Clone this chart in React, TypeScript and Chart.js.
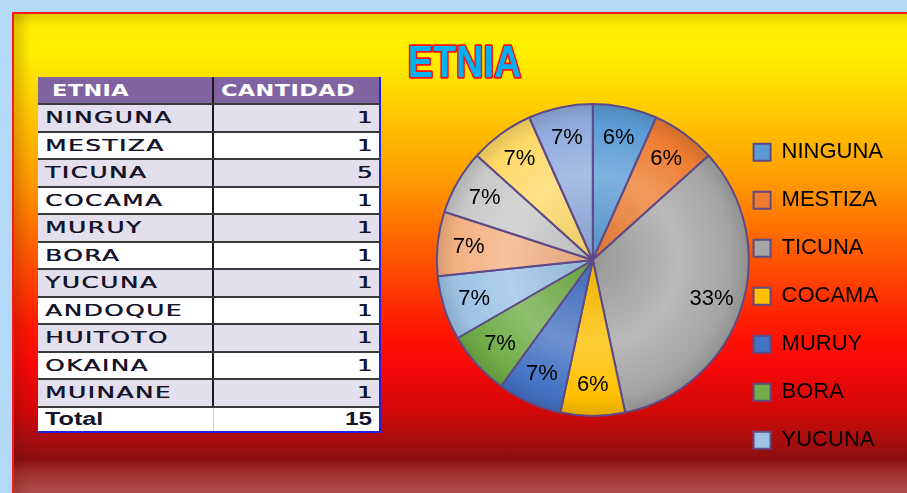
import React, { useEffect, useRef } from "react";
import { Chart, registerables } from "chart.js";

Chart.register(...registerables);

const chartTitle = "ETNIA";
const tableHeaders = ["ETNIA", "CANTIDAD"];
const categories = ["NINGUNA", "MESTIZA", "TICUNA", "COCAMA", "MURUY", "BORA", "YUCUNA", "ANDOQUE", "HUITOTO", "OKAINA", "MUINANE"];
const counts = [1, 1, 5, 1, 1, 1, 1, 1, 1, 1, 1];
const percentLabels = ["6%", "6%", "33%", "6%", "7%", "7%", "7%", "7%", "7%", "7%", "7%"];
const sliceColors = ["#5B9BD5", "#ED7D31", "#A5A5A5", "#FFC000", "#4472C4", "#70AD47", "#9DC3E6", "#F4B183", "#C9C9C9", "#FFD966", "#8FAADC"];
const legendShown = 7;
const totalLabel = "Total";

function mix(hex: string, target: number, amt: number) {
  const n = parseInt(hex.slice(1), 16);
  const r = (n >> 16) & 255, g = (n >> 8) & 255, b = n & 255;
  const f = (c: number) => Math.round(c + (target - c) * amt);
  return `rgb(${f(r)},${f(g)},${f(b)})`;
}

const titlePlugin = {
  id: "etniaTitle",
  afterDraw(chart: any) {
    const ctx = chart.ctx;
    ctx.save();
    ctx.translate(464.5, 77);
    ctx.scale(0.84, 1);
    ctx.font = 'bold 45px "Liberation Sans"';
    ctx.textAlign = "center";
    ctx.textBaseline = "alphabetic";
    ctx.lineJoin = "round";
    ctx.lineWidth = 3.5;
    ctx.strokeStyle = "#ff1010";
    ctx.strokeText(chartTitle, 0, 0);
    ctx.fillStyle = "#00b0f0";
    ctx.fillText(chartTitle, 0, 0);
    ctx.restore();
  },
};

const pctPlugin = {
  id: "pctLabels",
  afterDatasetsDraw(chart: any) {
    const ctx = chart.ctx;
    const meta = chart.getDatasetMeta(0);
    ctx.save();
    ctx.font = '22px "Liberation Sans"';
    ctx.fillStyle = "#000";
    ctx.textAlign = "center";
    ctx.textBaseline = "middle";
    meta.data.forEach((arc: any, i: number) => {
      const p = arc.getProps(["x", "y", "startAngle", "endAngle", "outerRadius"], true);
      const mid = (p.startAngle + p.endAngle) / 2;
      const r = p.outerRadius * 0.8;
      ctx.fillText(percentLabels[i], p.x + Math.cos(mid) * r, p.y + Math.sin(mid) * r);
    });
    ctx.restore();
  },
};

function sliceFill(context: any) {
  const color = sliceColors[context.dataIndex];
  const chart = context.chart;
  const area = chart.chartArea;
  if (!area || context.type !== "data") return color;
  const cx = (area.left + area.right) / 2;
  const cy = (area.top + area.bottom) / 2;
  const g = chart.ctx.createRadialGradient(cx, cy, 0, cx, cy, 156);
  g.addColorStop(0, mix(color, 0, 0.08));
  g.addColorStop(0.55, mix(color, 255, 0.22));
  g.addColorStop(0.88, color);
  g.addColorStop(1, mix(color, 0, 0.12));
  return g;
}

function PieChart() {
  const ref = useRef<HTMLCanvasElement | null>(null);
  useEffect(() => {
    if (!ref.current) return;
    const chart = new Chart(ref.current, {
      type: "pie",
      data: {
        labels: categories,
        datasets: [
          {
            data: counts,
            backgroundColor: sliceFill,
            borderColor: "#5e4a86",
            borderWidth: 2,
            radius: 156,
          } as any,
        ],
      },
      options: {
        animation: false,
        responsive: false,
        layout: { padding: { left: 458, right: 14, top: 30, bottom: 3 } },
        plugins: {
          tooltip: { enabled: false },
          legend: {
            position: "right",
            align: "start",
            title: { display: true, text: " ", font: { size: 1 }, padding: { top: 84, bottom: 0 } },
            labels: {
              boxWidth: 17,
              boxHeight: 17,
              padding: 26,
              color: "#000",
              font: { family: '"Liberation Sans"', size: 22 },
              filter: (item: any) => item.index < legendShown,
              generateLabels: () =>
                categories.map((c, i) => ({
                  text: c,
                  fillStyle: sliceColors[i],
                  strokeStyle: "#5e4a86",
                  fontColor: "#000",
                  lineWidth: 2,
                  hidden: false,
                  index: i,
                })),
            },
          },
        },
      },
      plugins: [pctPlugin, titlePlugin],
    });
    return () => chart.destroy();
  }, []);
  return (
    <canvas
      ref={ref}
      width={907}
      height={493}
      style={{ position: "absolute", left: 0, top: 0, width: 907, height: 493 }}
    />
  );
}

function DataTable() {
  const total = counts.reduce((a, b) => a + b, 0);
  const leftW = 176;
  const rightW = 167;
  const rowH = 27.5;
  const bodyText: React.CSSProperties = {
    display: "inline-block",
    transform: "scaleX(1.5)",
    transformOrigin: "left center",
    letterSpacing: "1px",
    fontFamily: '"DejaVu Sans"',
    fontSize: 16.5,
    color: "#14142a",
    whiteSpace: "nowrap",
    textShadow: "0.4px 0 0 #14142a",
  };
  const numText: React.CSSProperties = {
    ...bodyText,
    transformOrigin: "right center",
    letterSpacing: "0px",
  };
  const headText: React.CSSProperties = {
    ...bodyText,
    fontWeight: "bold",
    fontSize: 16,
    letterSpacing: "0.3px",
    transform: "scaleX(1.4)",
    color: "#fff",
    textShadow: "none",
  };
  return (
    <div style={{ position: "absolute", left: 38, top: 77, width: leftW + rightW, zIndex: 2 }}>
      <div style={{ display: "flex", height: 26, background: "#8064A2", borderRight: "2px solid #2020e0", boxSizing: "border-box" }}>
        <div style={{ width: leftW, borderRight: "2px solid #1a1a1a", boxSizing: "border-box", display: "flex", alignItems: "center", paddingLeft: 14 }}>
          <span style={headText}>{tableHeaders[0]}</span>
        </div>
        <div style={{ flex: 1, display: "flex", alignItems: "center", paddingLeft: 7 }}>
          <span style={headText}>{tableHeaders[1]}</span>
        </div>
      </div>
      {categories.map((c, i) => (
        <div
          key={c}
          style={{
            display: "flex",
            height: rowH,
            background: i % 2 === 0 ? "#E4DFEC" : "#ffffff",
            borderTop: "2px solid #3a3a3a",
            borderRight: "2px solid #2020e0",
            boxSizing: "border-box",
          }}
        >
          <div style={{ width: leftW, borderRight: "2px solid #1a1a1a", boxSizing: "border-box", display: "flex", alignItems: "center", paddingLeft: 7 }}>
            <span style={bodyText}>{c}</span>
          </div>
          <div style={{ flex: 1, display: "flex", alignItems: "center", justifyContent: "flex-end", paddingRight: 7 }}>
            <span style={numText}>{counts[i]}</span>
          </div>
        </div>
      ))}
      <div
        style={{
          display: "flex",
          height: rowH,
          background: "#ffffff",
          borderTop: "2px solid #3a3a3a",
          borderRight: "2px solid #2020e0",
          borderBottom: "2px solid #2020e0",
          boxSizing: "border-box",
        }}
      >
        <div style={{ width: leftW, borderRight: "1px solid #cfcfcf", boxSizing: "border-box", display: "flex", alignItems: "center", paddingLeft: 7 }}>
          <span style={{ ...bodyText, fontFamily: '"Liberation Sans"', fontWeight: "bold", fontSize: 18, letterSpacing: "0px", transform: "scaleX(1.4)", textShadow: "none" }}>{totalLabel}</span>
        </div>
        <div style={{ flex: 1, display: "flex", alignItems: "center", justifyContent: "flex-end", paddingRight: 7 }}>
          <span style={{ ...numText, fontFamily: '"Liberation Sans"', fontWeight: "bold", fontSize: 18, transform: "scaleX(1.35)", textShadow: "none" }}>{total}</span>
        </div>
      </div>
    </div>
  );
}

export default function App() {
  return (
    <div style={{ position: "absolute", left: 0, top: 0, width: 907, height: 493, overflow: "hidden", background: "#b4d8f8" }}>
      <div
        style={{
          position: "absolute",
          left: 12,
          top: 12,
          width: 895,
          height: 481,
          boxSizing: "border-box",
          borderTop: "2px solid #ff1818",
          borderLeft: "2px solid #ff1818",
          background:
            "linear-gradient(to bottom, #e2cc00 0%, #ffee00 2.5%, #fff000 8%, #ffd200 18%, #ff9a00 35%, #ff5a00 50%, #ff1a00 65%, #f80808 73%, #d20808 83%, #a80e0e 89%, #8a0f0f 93%, #a43232 96%, #b24e4e 100%)",
          boxShadow: "inset 20px 0 12px -12px rgba(90,20,0,0.22)",
        }}
      />
      <PieChart />
      <DataTable />
    </div>
  );
}
